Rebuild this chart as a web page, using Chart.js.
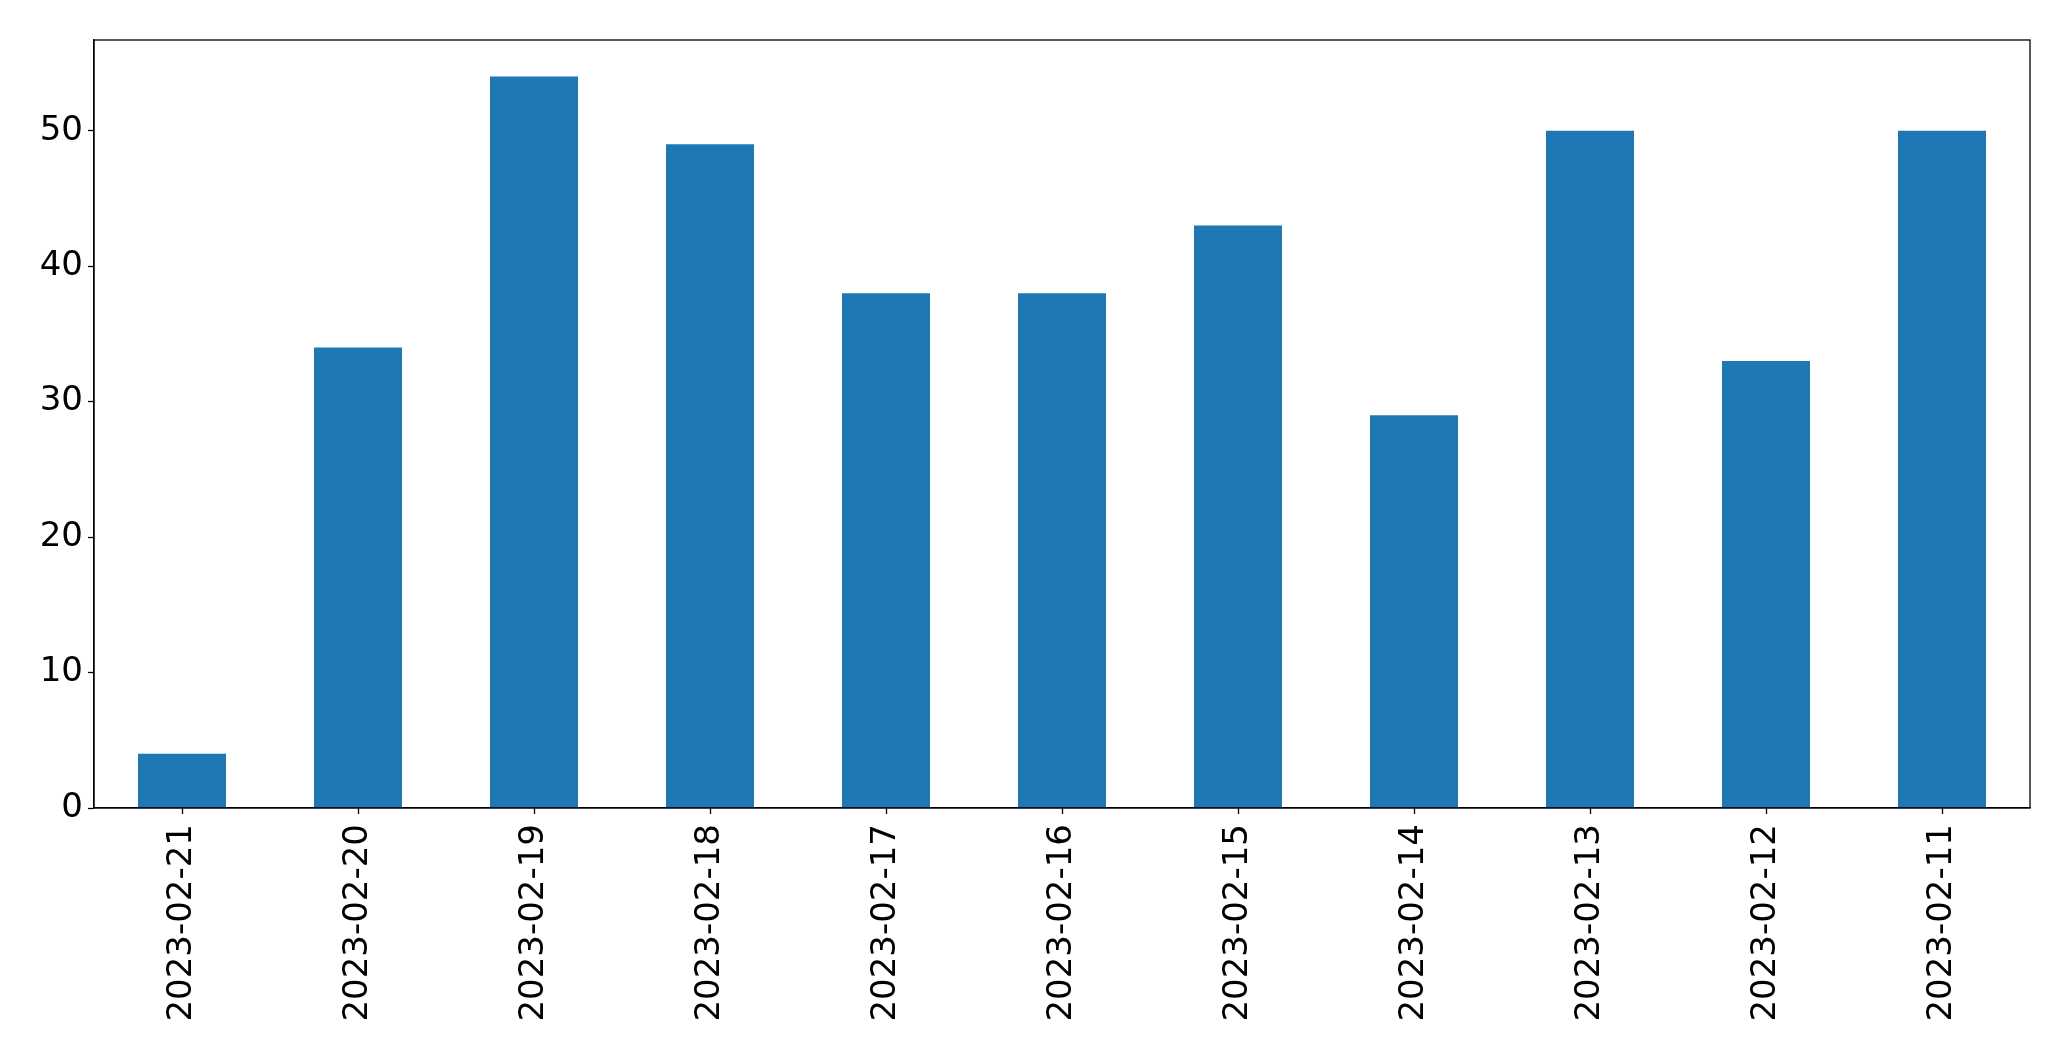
<!DOCTYPE html>
<html lang="en">
<head>
  <meta charset="UTF-8" />
  <title>Daily counts</title>
  <script src="https://cdn.jsdelivr.net/npm/chart.js"></script>
  <style>
    body { margin: 0; background: #fff; }
    canvas { display: block; }
  </style>
</head>
<body>

<canvas id="chartCanvas" width="2071" height="1061"></canvas>

<script>
  const dates = ['2023-02-21', '2023-02-20', '2023-02-19', '2023-02-18', '2023-02-17', '2023-02-16',
                 '2023-02-15', '2023-02-14', '2023-02-13', '2023-02-12', '2023-02-11'];
  const counts = [4, 34, 54, 49, 38, 38, 43, 29, 50, 33, 50];
  const yTicks = [0, 10, 20, 30, 40, 50];

  const font = { family: '"DejaVu Sans", sans-serif', size: 34 };

  // box around the plot area, like a matplotlib axes frame
  const frame = {
    id: 'frame',
    afterDraw(chart) {
      const { ctx, chartArea: a } = chart;
      ctx.save();
      ctx.strokeStyle = '#000';
      ctx.lineWidth = 1.3;
      ctx.strokeRect(a.left, a.top, a.right - a.left, a.bottom - a.top);
      ctx.restore();
    }
  };

  const ctx = document.getElementById('chartCanvas').getContext('2d');
  new Chart(ctx, {
    type: 'bar',
    data: {
      labels: dates,
      datasets: [{
        data: counts,
        backgroundColor: '#1f77b4',
        borderWidth: 0,
        categoryPercentage: 1,
        barPercentage: 0.5
      }]
    },
    options: {
      responsive: false,
      animation: false,
      layout: { padding: { top: 40, right: 41, left: 0, bottom: 0 } },
      plugins: {
        legend: { display: false },
        tooltip: { enabled: false }
      },
      scales: {
        x: {
          grid: { display: true, offset: false, drawOnChartArea: false, tickLength: 6, tickColor: '#000', tickWidth: 1.3 },
          border: { color: '#000', width: 1.3 },
          ticks: { color: '#000', font, maxRotation: 90, minRotation: 90, padding: 10 },
          afterFit(scale) { scale.height = 253; }
        },
        y: {
          min: 0,
          max: 56.7,
          grid: { display: true, drawOnChartArea: false, tickLength: 6, tickColor: '#000', tickWidth: 1.3 },
          border: { color: '#000', width: 1.3 },
          ticks: { color: '#000', font, padding: 5 },
          afterBuildTicks(scale) { scale.ticks = yTicks.map(v => ({ value: v })); },
          afterFit(scale) { scale.width = 94; }
        }
      }
    },
    plugins: [frame]
  });
</script>

</body>
</html>
